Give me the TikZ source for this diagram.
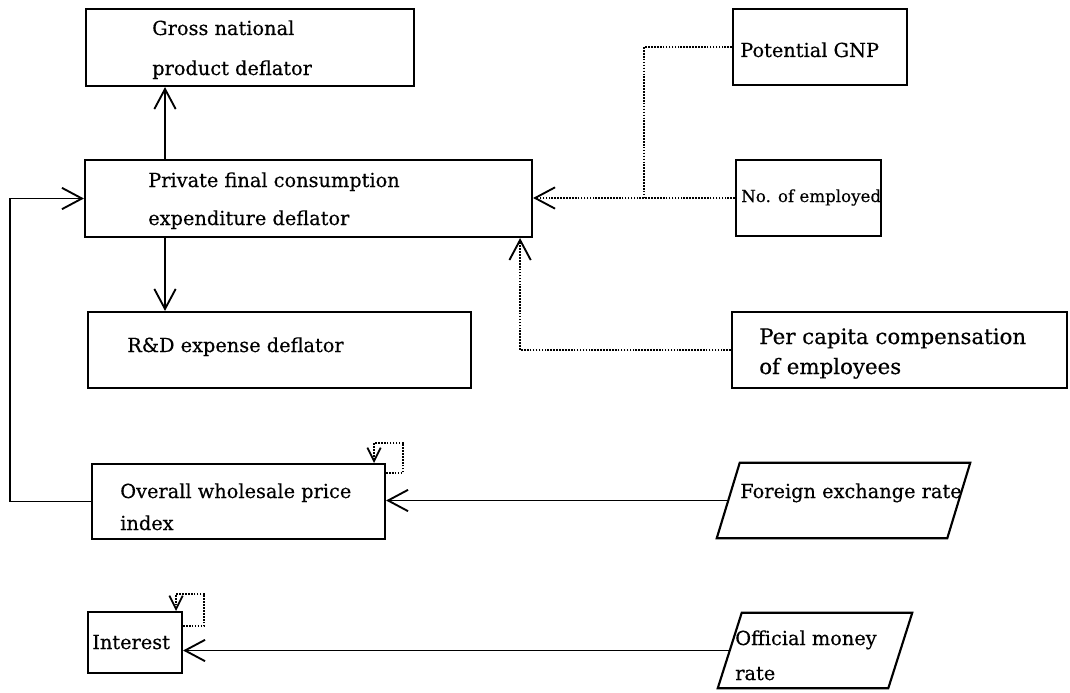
\documentclass[tikz,border=0pt]{standalone}
\usepackage{fontspec}
\setmainfont[FakeBold=0.4]{DejaVu Serif}
\usetikzlibrary{arrows.meta,fit,calc}

\begin{document}
\begin{tikzpicture}[x=0.75pt,y=-0.75pt,
  boxst/.style={draw, line width=1.6pt, rectangle, inner sep=0pt},
  frame/.style={rectangle, inner sep=0pt},
  paraline/.style={line width=1.6pt, line join=miter},
  txt/.style={anchor=base west, inner sep=0pt, font=\fontsize{14.5}{17}\selectfont},
  arrowln/.style={line width=1.3pt, -{Straight Barb[length=15pt,width=16pt,line width=1.4pt]}},
  dotln/.style={line width=1.2pt, dash pattern=on 1.2pt off 1pt},
  dotarrow/.style={dotln, -{Straight Barb[length=15pt,width=16pt,line width=1.4pt]}},
  selfln/.style={line width=1.1pt, dash pattern=on 1.2pt off 1pt,
    -{Straight Barb[length=10pt,width=10pt,line width=1.3pt]}},
]
\useasboundingbox (0,0) rectangle (1070,692);

% boxes
\node[boxst, fit={(86,9) (414,86)}] (gnp) {};
\node[boxst, fit={(85,160) (532,237)}] (pfc) {};
\node[boxst, fit={(88,312) (471,388)}] (rd) {};
\node[boxst, fit={(733,9) (907,85)}] (pg) {};
\node[boxst, fit={(736,160) (881,236)}] (ne) {};
\node[boxst, fit={(732,312) (1067,388)}] (pc) {};
\node[boxst, fit={(92,464) (385,539)}] (ows) {};
\node[boxst, fit={(88,612) (182,673)}] (int) {};

% exogenous inputs: parallelograms inside their frames
\node[frame, fit={(717,463) (970,538)}] (fer) {};
\node[frame, fit={(718,613) (912,688)}] (omr) {};
\draw[paraline] (fer.south west) -- ($(fer.north west)+(23,0)$) -- (fer.north east)
  -- ($(fer.south east)+(-23,0)$) -- cycle;
\draw[paraline] (omr.south west) -- ($(omr.north west)+(24,0)$) -- (omr.north east)
  -- ($(omr.south east)+(-24,0)$) -- cycle;
\coordinate (ferL) at ($(fer.west)+(11.5,0)$);
\coordinate (omrL) at ($(omr.west)+(12,0)$);

% labels
\node[txt] (gnpA) at (152,35) {Gross national};
\node[txt] (gnpB) at (152,75) {product deflator};
\node[txt] (pfcA) at (148,187) {Private final consumption};
\node[txt] (pfcB) at (148,225) {expenditure deflator};
\node[txt] (rdA) at (127,352) {R\&D expense deflator};
\node[txt] (pgA) at (740,57) {Potential GNP};
\node[txt, font=\fontsize{12.5}{15}\selectfont] (neA) at (741,202) {No. of employed};
\node[txt, font=\fontsize{16}{19}\selectfont] (pcA) at (759,344) {Per capita compensation};
\node[txt, font=\fontsize{16}{19}\selectfont] (pcB) at (759,374) {of employees};
\node[txt] (owsA) at (120,498) {Overall wholesale price};
\node[txt] (owsB) at (120,530) {index};
\node[txt] (intA) at (92,649) {Interest};
\node[txt] (ferA) at (740,498) {Foreign exchange rate};
\node[txt] (omrA) at (735,645) {Official money};
\node[txt] (omrB) at (735,680) {rate};

% helper positions
\coordinate (ax) at (165,0);
\coordinate (lx) at (10,0);
\coordinate (jn) at ($(pfc.east)+(111,0)$);
\coordinate (up) at ($(pfc.south east)+(-13,0)$);

% solid connectors
\draw[arrowln] (pfc.north -| ax) -- (gnp.south -| ax);
\draw[arrowln] (pfc.south -| ax) -- (rd.north -| ax);
\draw[arrowln] (ows.west) -- (ows.west -| lx) |- (pfc.west);
\draw[arrowln] (ferL) -- (ferL -| ows.east);
\draw[arrowln] (omrL) -- (omrL -| int.east);

% dotted connectors
\draw[dotarrow] (ne.west) -- (ne.west -| pfc.east);
\draw[dotln] (pg.west) -| (jn);
\draw[dotarrow] (pc.west) -| (up);

% lagged self-references
\draw[selfln] ($(ows.north east)+(0,10)$) -- ++(17,0) |- ($(ows.north east)+(-12,-20)$) -- ($(ows.north east)+(-12,0)$);
\draw[selfln] ($(int.north east)+(0,15)$) -- ++(21,0) |- ($(int.north east)+(-7,-17)$) -- ($(int.north east)+(-7,0)$);
\end{tikzpicture}
\end{document}
